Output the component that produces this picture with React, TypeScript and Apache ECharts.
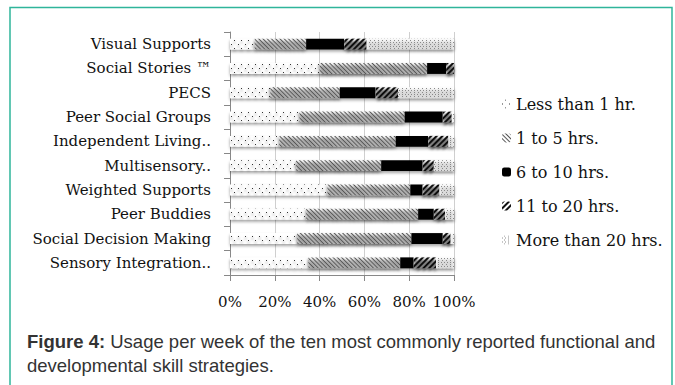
import React, { useEffect, useRef } from "react";
import * as echarts from "echarts";

const categories = [
  "Visual Supports",
  "Social Stories \u2122",
  "PECS",
  "Peer Social Groups",
  "Independent Living..",
  "Multisensory..",
  "Weighted Supports",
  "Peer Buddies",
  "Social Decision Making",
  "Sensory Integration..",
];

const seriesNames = [
  "Less than 1 hr.",
  "1 to 5 hrs.",
  "6 to 10 hrs.",
  "11 to 20 hrs.",
  "More than 20 hrs.",
];

const lessThan1 = [11, 40, 18, 31, 22, 29.5, 43.5, 34, 30, 35];
const oneTo5 = [23, 48, 31, 47, 52, 38, 37, 50, 51, 41];
const sixTo10 = [17, 8.5, 16, 17, 14.5, 18.5, 5.5, 7, 14, 6];
const elevenTo20 = [10, 3.5, 10, 4, 9, 5, 7.5, 5, 3.5, 10];
const moreThan20 = [39, 0, 25, 1, 2.5, 9, 6.5, 4, 1.5, 8];

const xTicks = [0, 20, 40, 60, 80, 100];

const SERIF = "'DejaVu Serif', 'Liberation Serif', serif";
const SANS = "'Liberation Sans', Arial, sans-serif";

const shadow = {
  shadowBlur: 3,
  shadowOffsetY: 2,
  shadowColor: "rgba(0,0,0,0.35)",
};

// fill patterns for each usage band
const styles: any[] = [
  {
    color: "#ffffff",
    decal: {
      symbol: "rect",
      symbolSize: 1,
      color: "#333",
      dashArrayX: [[1, 6], [0, 3, 1, 3]],
      dashArrayY: [1, 3],
    },
  },
  {
    color: "#ffffff",
    decal: {
      symbol: "rect",
      symbolSize: 1,
      color: "#555",
      rotation: Math.PI / 4,
      dashArrayX: [1, 0],
      dashArrayY: [1, 2],
    },
  },
  { color: "#000000" },
  {
    color: "#ffffff",
    decal: {
      symbol: "rect",
      symbolSize: 1,
      color: "#111",
      rotation: -Math.PI / 4,
      dashArrayX: [1, 0],
      dashArrayY: [2, 1.5],
    },
  },
  {
    color: "#ffffff",
    decal: {
      symbol: "rect",
      symbolSize: 1,
      color: "#8a8a8a",
      dashArrayX: [[1, 1.5], [0, 1.25, 1, 0.25]],
      dashArrayY: [1, 1],
    },
  },
];

const values = [lessThan1, oneTo5, sixTo10, elevenTo20, moreThan20];

export default function App() {
  const ref = useRef<HTMLDivElement>(null);

  useEffect(() => {
    if (!ref.current) return;
    const chart = echarts.init(ref.current, undefined, { renderer: "svg" });

    chart.setOption({
      animation: false,
      backgroundColor: "#ffffff",
      grid: { left: 230, right: 221, top: 32, bottom: 110 },
      legend: {
        orient: "vertical",
        left: 497,
        top: 91,
        itemWidth: 9,
        itemHeight: 9,
        itemGap: 18,
        textStyle: { fontFamily: SERIF, fontSize: 16, color: "#111", lineHeight: 16 },
        data: seriesNames,
      },
      xAxis: {
        type: "value",
        min: 0,
        max: 100,
        interval: 20,
        axisLine: { show: true, lineStyle: { color: "#888", width: 1 } },
        axisTick: { show: true, length: 6, lineStyle: { color: "#888" } },
        splitLine: { show: true, lineStyle: { color: "#cfcfcf", width: 1 } },
        axisLabel: {
          margin: 19,
          fontFamily: SERIF,
          fontSize: 15,
          color: "#111",
          formatter: (v: number) => (xTicks.includes(v) ? v + "%" : ""),
        },
      },
      yAxis: {
        type: "category",
        inverse: true,
        data: categories,
        axisLine: { show: true, lineStyle: { color: "#888", width: 1 } },
        axisTick: { show: true, length: 6, lineStyle: { color: "#888" } },
        axisLabel: {
          margin: 19,
          fontFamily: SERIF,
          fontSize: 15,
          color: "#111",
        },
      },
      series: values.map((data, i) => ({
        name: seriesNames[i],
        type: "bar",
        stack: "total",
        barWidth: "45%",
        data,
        itemStyle: { ...styles[i], ...shadow },
        emphasis: { disabled: true },
      })),
      graphic: [
        {
          type: "rect",
          shape: { x: 10, y: 7.5, width: 662, height: 400 },
          style: { fill: "none", stroke: "#2fb59a", lineWidth: 1.5 },
          silent: true,
        },
        {
          type: "text",
          left: 27,
          top: 332,
          style: {
            text: "{b|Figure 4:} Usage per week of the ten most commonly reported functional and",
            fontFamily: SANS,
            fontSize: 18.5,
            fill: "#333",
            rich: {
              b: { fontFamily: SANS, fontSize: 18.5, fontWeight: "bold", fill: "#333" },
            },
          },
        },
        {
          type: "text",
          left: 27,
          top: 356,
          style: {
            text: "developmental skill strategies.",
            fontFamily: SANS,
            fontSize: 18.5,
            fill: "#333",
          },
        },
      ],
    });

    return () => chart.dispose();
  }, []);

  return (
    <div
      ref={ref}
      style={{ position: "absolute", left: 0, top: 0, width: 675, height: 385 }}
    />
  );
}
